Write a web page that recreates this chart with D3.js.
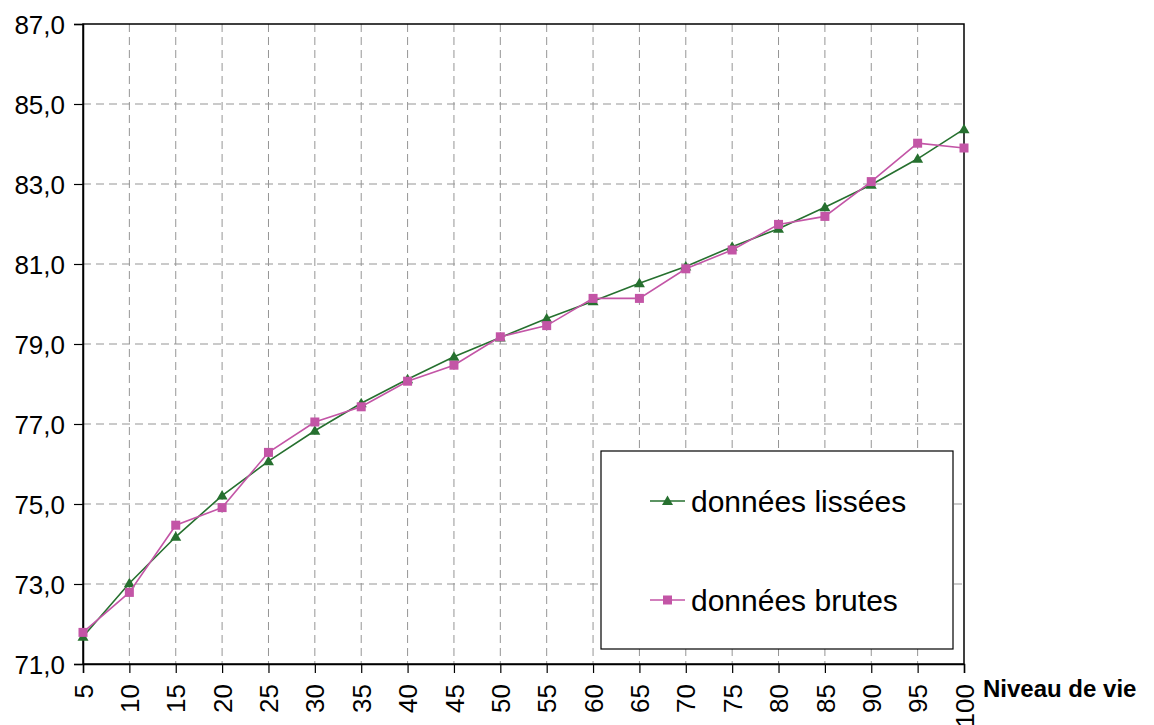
<!DOCTYPE html>
<html>
<head>
<meta charset="utf-8">
<script src="https://cdn.jsdelivr.net/npm/d3@7"></script>
<style>
  html, body { margin: 0; padding: 0; background: #fff; }
  svg { display: block; font-family: "Liberation Sans", Arial, sans-serif; }
</style>
</head>
<body>
<svg id="chart" width="1154" height="725"></svg>
<script>
const categories = [5, 10, 15, 20, 25, 30, 35, 40, 45, 50, 55, 60, 65, 70, 75, 80, 85, 90, 95, 100];
const lissees = [71.68, 73.02, 74.18, 75.21, 76.07, 76.83, 77.52, 78.12, 78.68, 79.16, 79.64, 80.07, 80.52, 80.94, 81.43, 81.88, 82.42, 82.98, 83.63, 84.37];
const brutes  = [71.79, 72.79, 74.47, 74.91, 76.29, 77.05, 77.43, 78.07, 78.47, 79.18, 79.46, 80.14, 80.14, 80.88, 81.35, 81.99, 82.19, 83.06, 84.02, 83.90];
const yTicks = [71, 73, 75, 77, 79, 81, 83, 85, 87];
const seriesNames = ["données lissées", "données brutes"];
const xTitle = "Niveau de vie";

const svg = d3.select("#chart");
const pLeft = 83, pRight = 964, pTop = 24, pBottom = 664;

const x = d3.scalePoint().domain(categories).range([pLeft, pRight]).padding(0);
const y = d3.scaleLinear().domain([71, 87]).range([pBottom, pTop]);

const green = "#26702f";
const magenta = "#c355a6";
const fmt = d => d.toFixed(1).replace(".", ",");

// Grid
const grid = svg.append("g");
grid.selectAll("line.v").data(categories.slice(1, -1)).join("line").attr("class", "v")
  .attr("x1", d => x(d)).attr("x2", d => x(d))
  .attr("y1", pTop).attr("y2", pBottom)
  .attr("stroke", "#959595").attr("stroke-width", 1).attr("stroke-dasharray", "8,5");
grid.selectAll("line.h").data(yTicks.slice(1, -1)).join("line").attr("class", "h")
  .attr("x1", pLeft).attr("x2", pRight)
  .attr("y1", d => y(d)).attr("y2", d => y(d))
  .attr("stroke", "#959595").attr("stroke-width", 1).attr("stroke-dasharray", "8,5");

// Border
svg.append("rect").attr("x", pLeft).attr("y", pTop)
  .attr("width", pRight - pLeft).attr("height", pBottom - pTop)
  .attr("fill", "none").attr("stroke", "#000").attr("stroke-width", 1.5);

// Y axis
const yAxis = d3.axisLeft(y).tickValues(yTicks).tickFormat(fmt).tickSize(9).tickPadding(9);
const gy = svg.append("g").attr("transform", `translate(${pLeft},0)`).call(yAxis);
gy.select(".domain").attr("stroke", "#000").attr("stroke-width", 1.5);
gy.selectAll(".tick line").attr("stroke", "#000").attr("stroke-width", 1.2);
gy.selectAll(".tick text").attr("font-size", 26).attr("fill", "#000")
  .attr("font-family", "'Liberation Sans', Arial, sans-serif").attr("dy", "0.35em");

// X axis
const xAxis = d3.axisBottom(x).tickSize(9).tickPadding(0);
const gx = svg.append("g").attr("transform", `translate(0,${pBottom})`).call(xAxis);
gx.select(".domain").attr("stroke", "#000").attr("stroke-width", 1.5);
gx.selectAll(".tick line").attr("stroke", "#000").attr("stroke-width", 1.2);
gx.selectAll(".tick text").attr("font-size", 26).attr("fill", "#000")
  .attr("font-family", "'Liberation Sans', Arial, sans-serif")
  .attr("text-anchor", "end")
  .attr("transform", "translate(0,20) rotate(-90)")
  .attr("x", 0).attr("y", 0).attr("dy", "0.35em");

svg.append("text").attr("x", 983).attr("y", 697)
  .attr("font-size", 24).attr("font-weight", "bold").attr("fill", "#000")
  .text(xTitle);

// Series
const triPath = "M0,-5.5L5.5,4L-5.5,4Z";
const line = d3.line().x((d, i) => x(categories[i])).y(d => y(d));

function drawSeries(values, color, marker) {
  const g = svg.append("g");
  g.append("path").attr("d", line(values)).attr("fill", "none")
    .attr("stroke", color).attr("stroke-width", 1.6);
  if (marker === "tri") {
    g.selectAll("path.m").data(values).join("path").attr("class", "m")
      .attr("d", triPath)
      .attr("transform", (d, i) => `translate(${x(categories[i])},${y(d)})`)
      .attr("fill", color);
  } else {
    g.selectAll("rect.m").data(values).join("rect").attr("class", "m")
      .attr("x", (d, i) => x(categories[i]) - 4.5).attr("y", d => y(d) - 4.5)
      .attr("width", 9).attr("height", 9).attr("fill", color);
  }
}
drawSeries(lissees, green, "tri");
drawSeries(brutes, magenta, "sq");

// Legend
const lg = svg.append("g");
lg.append("rect").attr("x", 601).attr("y", 451).attr("width", 352).attr("height", 198)
  .attr("fill", "#fff").attr("stroke", "#000").attr("stroke-width", 1.2);
const items = [
  { name: seriesNames[0], color: green, marker: "tri", y: 501 },
  { name: seriesNames[1], color: magenta, marker: "sq", y: 600 }
];
items.forEach(it => {
  lg.append("line").attr("x1", 650).attr("x2", 685).attr("y1", it.y).attr("y2", it.y)
    .attr("stroke", it.color).attr("stroke-width", 1.6);
  if (it.marker === "tri") {
    lg.append("path").attr("d", triPath).attr("transform", `translate(667.5,${it.y})`).attr("fill", it.color);
  } else {
    lg.append("rect").attr("x", 663).attr("y", it.y - 4.5).attr("width", 9).attr("height", 9).attr("fill", it.color);
  }
  lg.append("text").attr("x", 691).attr("y", it.y).attr("dy", "0.35em")
    .attr("font-size", 30).attr("fill", "#000").text(it.name);
});
</script>
</body>
</html>
